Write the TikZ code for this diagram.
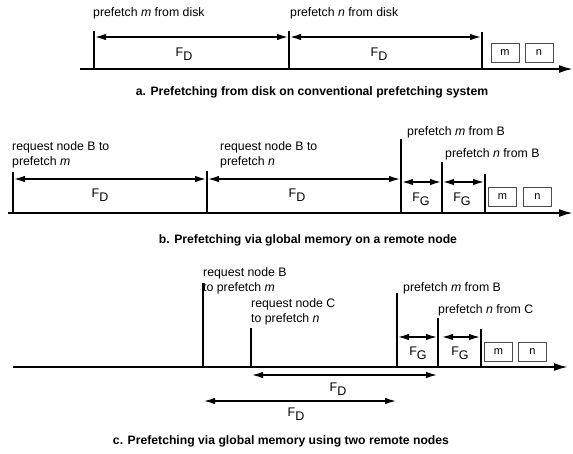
\documentclass[tikz,border=0pt]{standalone}
\usepackage{fontspec}
\setmainfont{Liberation Sans}
\usetikzlibrary{arrows.meta}
\newcommand\myFD{F\raisebox{-4pt}{D}}
\newcommand\myFG{F\raisebox{-4pt}{G}}
\begin{document}
\begin{tikzpicture}[x=1pt,y=-1pt,
 lbl/.style={anchor=west,inner sep=0pt,font=\fontsize{12.3}{15}\selectfont,align=left},
 captext/.style={inner sep=0pt,font=\fontsize{12.2}{14}\selectfont\bfseries},
 fl/.style={inner sep=0pt,font=\fontsize{12.5}{14}\selectfont},
 tickline/.style={line width=2.1pt},
 axisline/.style={line width=2.1pt,-{Latex[length=14pt,width=8pt]}},
 dbl/.style={line width=2.1pt,{Latex[length=12pt,width=6.5pt]}-{Latex[length=12pt,width=6.5pt]}},
 box/.style={draw=black!70,line width=0.7pt,fill=white,minimum width=28pt,minimum height=19pt,inner sep=0pt,font=\fontsize{11}{13}\selectfont}
]
\useasboundingbox (0,0) rectangle (573,453);

% ---------- panel a ----------
\coordinate (aS) at (80,69);
\coordinate (aE) at (573,69);
\coordinate (a1) at (94,69);  \coordinate (a1t) at (94,31);
\coordinate (a2) at (289,69); \coordinate (a2t) at (289,31);
\coordinate (a3) at (482,69); \coordinate (a3t) at (482,32);
\coordinate (a1r) at (94,37); \coordinate (a2r) at (289,37); \coordinate (a3r) at (482,37);
\draw[axisline] (aS) -- (aE);
\draw[tickline] (a1) -- (a1t);
\draw[tickline] (a2) -- (a2t);
\draw[tickline] (a3) -- (a3t);
\draw[dbl] (a1r) -- (a2r);
\draw[dbl] (a2r) -- (a3r);
\node[lbl] (aL1) at (93,13) {prefetch \textit{m} from disk};
\node[lbl] (aL2) at (290,13) {prefetch \textit{n} from disk};
\node[fl] (aF1) at (184,54) {\myFD};
\node[fl] (aF2) at (379,54) {\myFD};
\node[box] (aM) at (505,53) {m};
\node[box] (aN) at (539,53) {n};
\node[captext] (aC) at (312,92) {a. Prefetching from disk on conventional prefetching system};

% ---------- panel b ----------
\coordinate (bS) at (8,213);
\coordinate (bE) at (573,213);
\coordinate (b1) at (13,213);  \coordinate (b1t) at (13,172);
\coordinate (b2) at (207,213); \coordinate (b2t) at (207,171);
\coordinate (b3) at (401,213); \coordinate (b3t) at (401,139);
\coordinate (b4) at (442,213); \coordinate (b4t) at (442,162);
\coordinate (b5) at (485,213); \coordinate (b5t) at (485,174);
\coordinate (b1r) at (13,179); \coordinate (b2r) at (207,179); \coordinate (b3r) at (401,179);
\coordinate (b3g) at (401,182); \coordinate (b4g) at (442,182); \coordinate (b5g) at (485,182);
\draw[axisline] (bS) -- (bE);
\draw[tickline] (b1) -- (b1t);
\draw[tickline] (b2) -- (b2t);
\draw[tickline] (b3) -- (b3t);
\draw[tickline] (b4) -- (b4t);
\draw[tickline] (b5) -- (b5t);
\draw[dbl] (b1r) -- (b2r);
\draw[dbl] (b2r) -- (b3r);
\draw[dbl] (b3g) -- (b4g);
\draw[dbl] (b4g) -- (b5g);
\node[lbl] (bL1) at (12,154.5) {request node B to\\prefetch \textit{m}};
\node[lbl] (bL2) at (220,154.5) {request node B to\\prefetch \textit{n}};
\node[lbl] (bL3) at (407,132) {prefetch \textit{m} from B};
\node[lbl] (bL4) at (445,154) {prefetch \textit{n} from B};
\node[fl] (bF1) at (100,195) {\myFD};
\node[fl] (bF2) at (297,195) {\myFD};
\node[fl] (bG1) at (421,199) {\myFG};
\node[fl] (bG2) at (462,199) {\myFG};
\node[box] (bM) at (502.5,197) {m};
\node[box] (bN) at (537.5,197) {n};
\node[captext] (bC) at (308,240) {b. Prefetching via global memory on a remote node};

% ---------- panel c ----------
\coordinate (cS) at (13,367);
\coordinate (cE) at (568,367);
\coordinate (c1) at (203,367); \coordinate (c1t) at (203,283);
\coordinate (c2) at (251,367); \coordinate (c2t) at (251,328);
\coordinate (c3) at (397,367); \coordinate (c3t) at (397,293);
\coordinate (c4) at (438,367); \coordinate (c4t) at (438,318);
\coordinate (c5) at (481,367); \coordinate (c5t) at (481,329);
\coordinate (c3g) at (397,337); \coordinate (c4g) at (438,337);
\coordinate (c4h) at (441,337); \coordinate (c5g) at (481,337);
\coordinate (cU1) at (251,375); \coordinate (cU2) at (438,375);
\coordinate (cD1) at (203,401); \coordinate (cD2) at (397,401);
\draw[axisline] (cS) -- (cE);
\draw[tickline] (c1) -- (c1t);
\draw[tickline] (c2) -- (c2t);
\draw[tickline] (c3) -- (c3t);
\draw[tickline] (c4) -- (c4t);
\draw[tickline] (c5) -- (c5t);
\draw[dbl] (c3g) -- (c4g);
\draw[dbl] (c4h) -- (c5g);
\draw[dbl] (cU1) -- (cU2);
\draw[dbl] (cD1) -- (cD2);
\node[lbl] (cL1) at (203,280.5) {request node B\\to prefetch \textit{m}};
\node[lbl] (cL2) at (251,311.5) {request node C\\to prefetch \textit{n}};
\node[lbl] (cL3) at (403,288) {prefetch \textit{m} from B};
\node[lbl] (cL4) at (438,310) {prefetch \textit{n} from C};
\node[fl] (cG1) at (418,353) {\myFG};
\node[fl] (cG2) at (460,353) {\myFG};
\node[fl] (cF1) at (338,389) {\myFD};
\node[fl] (cF2) at (296,414) {\myFD};
\node[box] (cM) at (498.5,352) {m};
\node[box] (cN) at (532.5,352) {n};
\node[captext] (cC) at (281,441) {c. Prefetching via global memory using two remote nodes};
\end{tikzpicture}
\end{document}
